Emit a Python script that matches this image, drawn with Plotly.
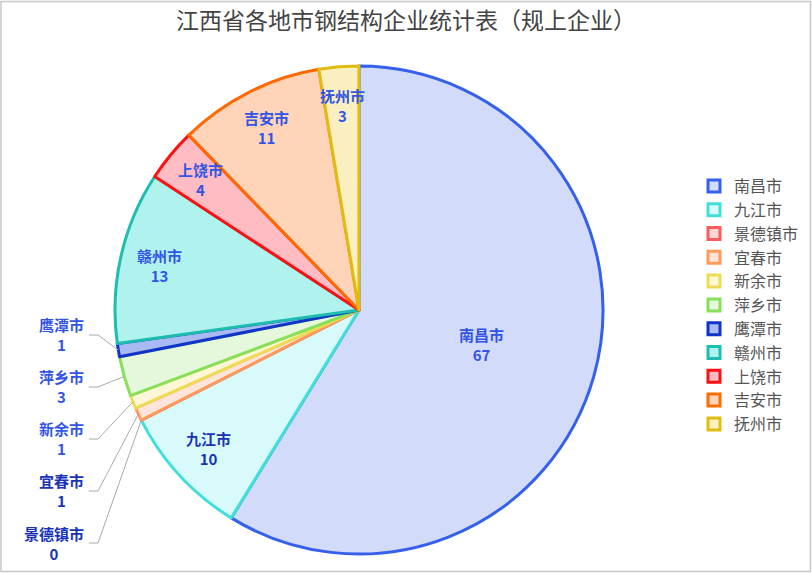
import math
import plotly.graph_objects as go

# ---------------- data ----------------
cities = ["南昌市", "九江市", "景德镇市", "宜春市", "新余市", "萍乡市",
          "鹰潭市", "赣州市", "上饶市", "吉安市", "抚州市"]
counts = [67, 10, 0, 1, 1, 3, 1, 13, 4, 11, 3]
title_text = "江西省各地市钢结构企业统计表（规上企业）"

# ---------------- styles ----------------
line_colors = ["#3460ec", "#40e0d8", "#ff5a5f", "#ff9a5a", "#eedc55", "#88e05a",
               "#1034c8", "#1fbcb0", "#ff1010", "#ff6a00", "#e0bc10"]
fill_colors = ["#d3dbfb", "#d8fafa", "#ffd6d8", "#ffe4da", "#fdf7d8", "#e6f8db",
               "#a9b9f2", "#b0f3ee", "#ffbcc2", "#ffd4b8", "#faefc0"]
label_colors = ["#3355e6", "#1833b8", "#1833b8", "#1833b8", "#3355e6", "#3355e6",
                "#3355e6", "#3355e6", "#3355e6", "#3355e6", "#3355e6"]
outside_labels = {"景德镇市", "宜春市", "新余市", "萍乡市", "鹰潭市"}

W, H = 812, 573
M_T, M_B = 66, 19
PLOT_H = H - M_T - M_B
CX, R = 359, PLOT_H / 2
CY = M_T + R


def px_x(x):
    return x / W


def px_y(y):
    return (H - M_B - y) / PLOT_H


fig = go.Figure(go.Pie(
    labels=cities, values=counts, sort=False, direction="clockwise",
    rotation=0, textinfo="none", hoverinfo="label+value+percent",
    marker=dict(colors=fill_colors, line=dict(color=line_colors, width=3)),
    domain=dict(x=[px_x(CX - R), px_x(CX + R)], y=[0, 1]),
))

total = sum(counts)
cum = 0
annotations = []
shapes = []
outside = []
label_font = dict(size=15, family="Noto Sans CJK SC")
for i, (name, v) in enumerate(zip(cities, counts)):
    a0 = cum / total * 2 * math.pi
    cum += v
    a1 = cum / total * 2 * math.pi
    mid = (a0 + a1) / 2
    text = f"<b>{name}<br>{v}</b>"
    if name not in outside_labels:
        f = 0.52 if v == max(counts) else 0.84
        x = CX + f * R * math.sin(mid)
        y = CY - f * R * math.cos(mid)
        annotations.append(dict(x=px_x(x), y=px_y(y), xref="paper", yref="paper",
                                xanchor="center", yanchor="middle",
                                text=text, showarrow=False,
                                font=dict(label_font, color=label_colors[i])))
    else:
        outside.append((i, text, mid))

# outside labels: ideal positions then resolve overlaps (shift down, then up)
len1, len2, gap = 17, 9, 52
items = []
for i, text, mid in outside:
    px0 = CX + R * math.sin(mid)
    py0 = CY - R * math.cos(mid)
    ideal = CY - (R + len1) * math.cos(mid)
    items.append([i, text, px0, py0, ideal])
items.sort(key=lambda t: t[4])
ys = []
for k, it in enumerate(items):
    y = it[4] if k == 0 else max(it[4], ys[-1] + gap)
    ys.append(y)
bottom_limit = H - 30
if ys[-1] > bottom_limit:
    d = ys[-1] - bottom_limit
    ys = [y - d for y in ys]
for (i, text, px0, py0, _), ly in zip(items, ys):
    ex = CX - R - len1
    hx = ex - len2
    shapes.append(dict(type="path", xref="paper", yref="paper",
                       path=f"M {px_x(px0)},{px_y(py0)} L {px_x(ex)},{px_y(ly)} L {px_x(hx)},{px_y(ly)}",
                       line=dict(color="#aaaaaa", width=1)))
    annotations.append(dict(x=px_x(hx - 3), y=px_y(ly), xref="paper", yref="paper",
                            xanchor="right", yanchor="middle", align="center",
                            text=text, showarrow=False,
                            font=dict(label_font, color=label_colors[i])))

# chart border
shapes.append(dict(type="rect", xref="paper", yref="paper",
                   x0=px_x(1), x1=px_x(W - 1.5), y0=px_y(H - 1.5), y1=px_y(1.5),
                   line=dict(color="#c8c8c8", width=1.5), fillcolor="rgba(0,0,0,0)"))

fig.update_layout(
    width=W, height=H,
    margin=dict(l=0, r=0, t=M_T, b=M_B),
    paper_bgcolor="white", plot_bgcolor="white",
    font=dict(family="Noto Sans CJK SC"),
    title=dict(text=title_text, x=0.5, xanchor="center", y=1 - 21 / H, yanchor="middle",
               font=dict(size=23, color="#444444", family="Noto Sans CJK SC")),
    legend=dict(x=px_x(804), y=px_y(169), xanchor="right", yanchor="top",
                font=dict(size=16, color="#555555", family="Noto Sans CJK SC"),
                itemwidth=30, bgcolor="rgba(0,0,0,0)", traceorder="normal",
                borderwidth=0),
    annotations=annotations,
    shapes=shapes,
)

fig.write_html("out.html", config={"displayModeBar": False},
               post_script="document.body.style.margin='0';")
